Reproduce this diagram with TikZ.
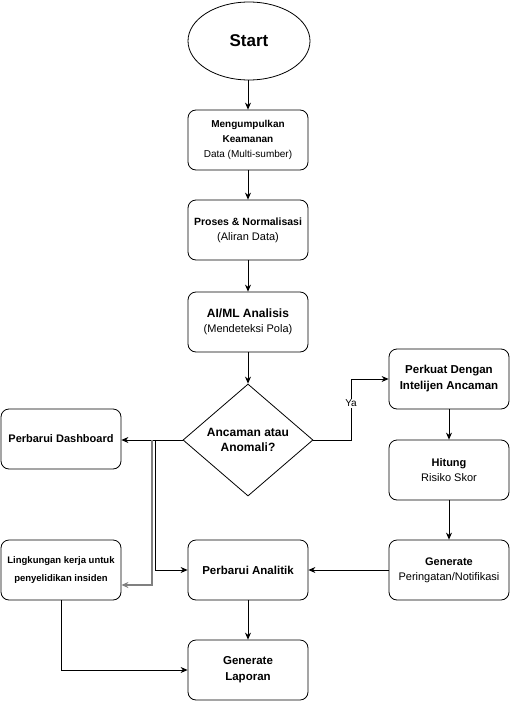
\documentclass[tikz,border=0pt]{standalone}
\usepackage{fontspec}
\setmainfont{Liberation Sans}
\usetikzlibrary{shapes.geometric,arrows.meta}

\begin{document}
\begin{tikzpicture}[x=1pt, y=-1pt, >={Stealth[length=7pt,width=6pt]}, line width=0.8pt,
    font=\fontsize{11}{15}\selectfont]
        % Styles for the flowchart shapes
        \tikzset{
            procbox/.style={draw, rounded corners=8pt, minimum width=120pt, minimum height=60pt, align=center, inner sep=2pt},
            decbox/.style={draw, diamond, aspect=1.16, minimum width=130pt, minimum height=112pt, align=center, inner sep=0pt, font=\fontsize{12}{15}\selectfont\bfseries},
            startbox/.style={draw, ellipse, minimum width=122pt, minimum height=78pt, font=\fontsize{17}{20}\selectfont\bfseries},
            flow/.style={->},
        }
        % Fix the page size
        \useasboundingbox (0,0) rectangle (509,701);

        % Main column
        \node[startbox] (start) at (249,41) {Start};
        \node[procbox] (collect) at (248,140) {\fontsize{10}{16}\selectfont\textbf{Mengumpulkan}\\\fontsize{10}{16}\selectfont\textbf{Keamanan}\\\fontsize{10}{17}\selectfont Data (Multi-sumber)};
        \node[procbox] (norm) at (248,230) {\fontsize{10.5}{16}\selectfont\textbf{Proses \& Normalisasi}\\(Aliran Data)};
        \node[procbox] (aiml) at (248,322) {\fontsize{12}{16}\selectfont\textbf{AI/ML Analisis}\\(Mendeteksi Pola)};
        \node[decbox] (dec) at (248,440) {Ancaman atau\\Anomali?};

        % Right column (threat branch)
        \node[procbox, font=\fontsize{11.5}{16}\selectfont\bfseries] (intel) at (449,379) {Perkuat Dengan\\Intelijen Ancaman};
        \node[procbox] (score) at (449,470) {\textbf{Hitung}\\Risiko Skor};
        \node[procbox] (alert) at (449,570) {\textbf{Generate}\\Peringatan/Notifikasi};

        % Left column and bottom
        \node[procbox, font=\fontsize{11}{15}\selectfont\bfseries] (dash) at (61,439) {Perbarui Dashboard};
        \node[procbox, font=\fontsize{9.5}{18}\selectfont\bfseries] (invest) at (61,570) {Lingkungan kerja untuk\\penyelidikan insiden};
        \node[procbox, font=\fontsize{11.5}{16}\selectfont\bfseries] (analytic) at (248,570) {Perbarui Analitik};
        \node[procbox, font=\fontsize{11.5}{16}\selectfont\bfseries] (report) at (248,670) {Generate\\Laporan};

        % Straight connectors
        \draw[flow] (start.south -| collect.north) -- (collect);
        \draw[flow] (collect) -- (norm);
        \draw[flow] (norm) -- (aiml);
        \draw[flow] (aiml) -- (dec);
        \draw[flow] (intel) -- (score);
        \draw[flow] (score) -- (alert);
        \draw[flow] (alert) -- (analytic);
        \draw[flow] (analytic) -- (report);
        \draw[flow] (dec.west) -- (dash.east |- dec.west);

        % Yes branch to the right
        \draw[flow] (dec.east) -- (351,440) |- (intel.west)
            node[pos=0.3, fill=white, inner sep=1pt, font=\fontsize{10}{12}\selectfont] {Ya};

        % Split lines below the decision
        \draw[flow, gray, line width=1.3pt] (152,440) |- (invest.east |- 0,585);
        \draw[flow] (155.5,440) |- (analytic.west);
        \draw[flow] (invest.south) |- (report.west);
    \end{tikzpicture}
\end{document}
